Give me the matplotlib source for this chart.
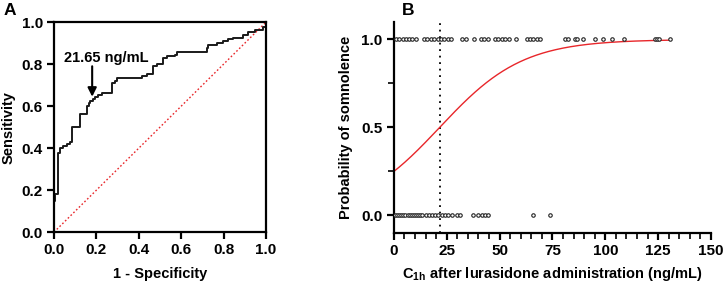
import numpy as np
import matplotlib
matplotlib.use("Agg")
import matplotlib.pyplot as plt

plt.rcParams['font.family'] = ['Liberation Sans', 'DejaVu Sans']
plt.rcParams['font.weight'] = 'bold'
plt.rcParams['mathtext.fontset'] = 'custom'
plt.rcParams['mathtext.rm'] = 'Liberation Sans:bold'
plt.rcParams['mathtext.bf'] = 'Liberation Sans:bold'

# ---- Panel A data: ROC curve vertices ----
roc_fpr = [0.0, 0.0, 0.005, 0.02, 0.028, 0.044, 0.06, 0.075, 0.083, 0.123, 0.157, 0.167,
           0.17, 0.182, 0.193, 0.209, 0.225, 0.272, 0.288, 0.296, 0.414, 0.437, 0.469,
           0.484, 0.516, 0.531, 0.571, 0.579, 0.72, 0.728, 0.767, 0.799, 0.822, 0.846,
           0.893, 0.917, 0.948, 0.987, 1.0]
roc_tpr = [0.0, 0.15, 0.18, 0.375, 0.40, 0.41, 0.42, 0.43, 0.50, 0.565, 0.60, 0.615,
           0.625, 0.635, 0.645, 0.655, 0.665, 0.71, 0.72, 0.735, 0.745, 0.755, 0.79,
           0.80, 0.83, 0.84, 0.845, 0.86, 0.875, 0.89, 0.90, 0.91, 0.92, 0.925,
           0.94, 0.955, 0.965, 0.975, 1.0]
cutoff_label = "21.65 ng/mL"
cutoff_fpr = 0.18
cutoff_tpr = 0.645
roc_ticks = [0.0, 0.2, 0.4, 0.6, 0.8, 1.0]

# ---- Panel B data ----
conc_somnolent = [0.95, 2.5, 4.1, 5.7, 7.3, 8.8, 10.4, 14.4, 15.9, 17.5, 19.1, 20.7, 22.2,
                  23.8, 25.4, 27.0, 32.0, 33.9, 38.0, 41.2, 42.7, 44.3, 47.8, 49.4, 51.0,
                  52.5, 54.6, 57.7, 62.8, 64.4, 66.0, 67.6, 69.1, 80.9, 82.5, 85.7, 86.8,
                  89.6, 95.1, 99.1, 103.0, 109.0, 123.5, 124.3, 125.6, 130.8]
conc_none = [0.5, 1.5, 2.5, 3.5, 4.5, 5.5, 6.5, 7.5, 8.5, 9.5, 10.5, 11.5, 12.5, 13.5,
             15.0, 16.5, 18.0, 19.5, 21.0, 22.6, 24.1, 25.7, 27.3, 29.7, 31.2, 37.5,
             39.9, 41.5, 43.1, 44.6, 65.9, 73.8]
cutoff_conc = 21.65
logit_intercept = -1.10
logit_slope = 0.0508
x_ticks_b = [0, 25, 50, 75, 100, 125, 150]
y_ticks_b = [0.0, 0.5, 1.0]

fig = plt.figure(figsize=(7.24, 2.88), dpi=100)

# ---------------- Panel A ----------------
axA = fig.add_axes([0.0746, 0.194, 0.2928, 0.729])
axA.plot([0, 1], [0, 1], color='#e8262a', lw=1.0, ls=(0, (1.2, 1.6)))
axA.step(roc_fpr, roc_tpr, where='post', color='#1a1a1a', lw=1.4)
axA.set_xlim(0, 1)
axA.set_ylim(0, 1)
axA.set_xticks(roc_ticks)
axA.set_yticks(roc_ticks)
axA.set_xticklabels([f"{t:.1f}" for t in roc_ticks])
axA.set_yticklabels([f"{t:.1f}" for t in roc_ticks])
for s in axA.spines.values():
    s.set_linewidth(1.6)
axA.tick_params(length=5, width=1.6, labelsize=11, pad=3)
axA.set_xlabel("1 - Specificity", fontsize=10.5, fontweight='bold', labelpad=7)
axA.set_ylabel("Sensitivity", fontsize=10.5, fontweight='bold', labelpad=4)
axA.annotate("", xy=(cutoff_fpr, cutoff_tpr), xytext=(cutoff_fpr, 0.79),
             arrowprops=dict(arrowstyle='-|>', color='black', lw=1.5,
                             mutation_scale=13, shrinkA=0, shrinkB=0))
axA.text(0.245, 0.83, cutoff_label, ha='center', va='center', fontsize=10.5,
         fontweight='bold')
fig.text(0.005, 0.965, "A", fontsize=12.5, fontweight='bold', ha='left', va='center')

# ---------------- Panel B ----------------
axB = fig.add_axes([0.544, 0.191, 0.438, 0.733])
xs = np.linspace(0, max(conc_somnolent), 300)
axB.plot(xs, 1 / (1 + np.exp(-(logit_intercept + logit_slope * xs))), color='#e8262a', lw=1.0,
         zorder=2)
axB.axvline(cutoff_conc, color='black', lw=1.3, ls=(0, (1, 2.6)), zorder=1)
axB.plot(conc_somnolent, np.ones(len(conc_somnolent)), 'o', ms=2.5, mfc='white',
         mec='#222222', mew=0.8, zorder=3)
axB.plot(conc_none, np.zeros(len(conc_none)), 'o', ms=2.5, mfc='white',
         mec='#222222', mew=0.8, zorder=3)
axB.set_xlim(0, 150)
axB.set_ylim(-0.1, 1.1)
axB.set_xticks(x_ticks_b)
axB.set_xticks(np.arange(0, 151, 5), minor=True)
axB.set_yticks(y_ticks_b)
axB.set_yticks([0.25, 0.75], minor=True)
axB.set_yticklabels([f"{t:.1f}" for t in y_ticks_b])
axB.spines['top'].set_visible(False)
axB.spines['right'].set_visible(False)
for s in ('left', 'bottom'):
    axB.spines[s].set_linewidth(1.6)
axB.tick_params(which='major', length=5, width=1.6, labelsize=11, pad=3)
axB.tick_params(which='minor', length=4, width=1.2)
axB.set_xlabel(r"C$_{\mathbf{1h}}$ after lurasidone administration (ng/mL)", fontsize=10.5,
               fontweight='bold', labelpad=5)
axB.set_ylabel("Probability of somnolence", fontsize=10.5, fontweight='bold', labelpad=6)
fig.text(0.555, 0.965, "B", fontsize=12.5, fontweight='bold', ha='left', va='center')

fig.savefig("out.png", dpi=100)
